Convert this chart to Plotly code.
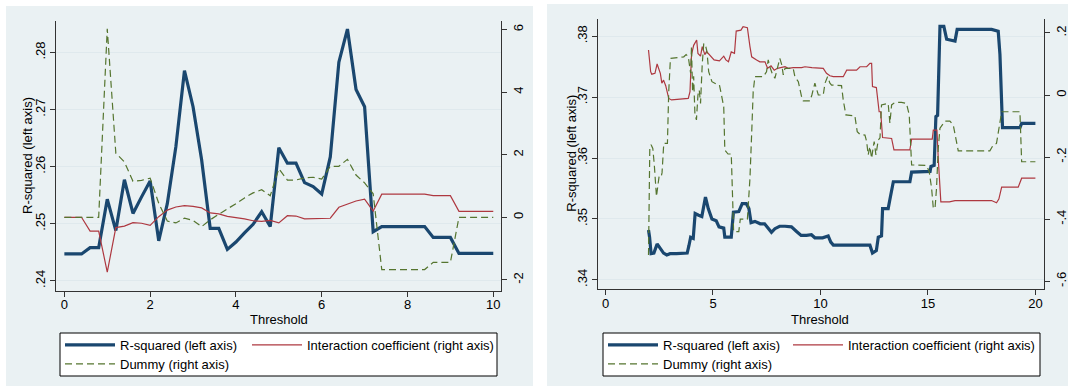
import plotly.graph_objects as go

W, H = 1071, 389

# ---------------- Left panel data (threshold 0..10) ----------------
thr_a = [0.0, 0.2, 0.4, 0.6, 0.8, 1.0, 1.2, 1.4, 1.6, 1.8, 2.0, 2.2, 2.4, 2.6, 2.8, 3.0,
         3.2, 3.4, 3.6, 3.8, 4.0, 4.2, 4.4, 4.6, 4.8, 5.0, 5.2, 5.4, 5.6, 5.8, 6.0, 6.2,
         6.4, 6.6, 6.8, 7.0, 7.2, 7.4, 7.6, 7.8, 8.0, 8.2, 8.4, 8.6, 8.8, 9.0, 9.2, 9.4,
         9.6, 9.8, 10.0]
rsq_a = [0.2447, 0.2447, 0.2447, 0.2458, 0.2458, 0.2543, 0.2488, 0.2577, 0.2518, 0.2547,
         0.2575, 0.2470, 0.2535, 0.2635, 0.2768, 0.2705, 0.2612, 0.2492, 0.2492, 0.2455,
         0.2468, 0.2484, 0.2499, 0.2521, 0.2495, 0.2633, 0.2606, 0.2606, 0.2572, 0.2565,
         0.2552, 0.2617, 0.2783, 0.2841, 0.2735, 0.2705, 0.2486, 0.2495, 0.2495, 0.2495,
         0.2495, 0.2495, 0.2495, 0.2476, 0.2476, 0.2476, 0.2448, 0.2448, 0.2448, 0.2448,
         0.2448]
inter_a = [0.0, 0.0, 0.0, -0.44, -0.44, -1.75, -0.33, -0.28, -0.17, -0.19, -0.26, 0.02,
           0.23, 0.33, 0.37, 0.35, 0.30, 0.14, 0.11, 0.03, 0.0, -0.05, -0.11, -0.13, -0.10,
           -0.18, 0.05, 0.04, -0.05, -0.04, -0.02, -0.03, 0.32, 0.42, 0.52, 0.58, 0.20,
           0.74, 0.74, 0.74, 0.74, 0.74, 0.74, 0.69, 0.69, 0.69, 0.19, 0.19, 0.19, 0.19, 0.19]
dummy_a = [0.0, 0.0, 0.0, 0.0, 0.0, 6.02, 2.05, 1.77, 1.15, 1.18, 1.25, 0.45, -0.12, -0.18,
           -0.03, -0.10, -0.30, -0.08, 0.10, 0.27, 0.43, 0.62, 0.78, 0.88, 0.69, 1.55, 1.19,
           1.19, 1.26, 1.28, 1.22, 1.63, 1.63, 1.85, 1.35, 1.10, 0.75, -1.67, -1.67, -1.67,
           -1.67, -1.67, -1.67, -1.44, -1.44, -1.44, 0.0, 0.0, 0.0, 0.0, 0.0]

# ---------------- Right panel data (threshold 2..20) ----------------
thr_b_rsq = [2.0, 2.05, 2.12, 2.25, 2.4, 2.55, 2.7, 2.85, 3.0, 3.3, 3.8, 3.88, 3.96, 4.08, 4.17,
             4.33, 4.48, 4.65, 4.78, 4.95, 5.15, 5.28, 5.5, 5.55, 5.85, 5.95, 6.2, 6.36, 6.55,
             6.67, 6.77, 6.95, 7.2, 7.4, 7.6, 7.72, 7.88, 8.1, 8.35, 8.65, 8.9, 9.1, 9.35, 9.58,
             9.74, 10.1, 10.36, 10.48, 10.6, 12.3, 12.42, 12.6, 12.69, 12.84, 12.89, 13.15,
             13.23, 13.39, 14.16, 14.24, 15.1, 15.14, 15.29, 15.37, 15.45, 15.56, 15.74, 15.87,
             16.26, 16.36, 17.96, 18.27, 18.35, 18.47, 19.28, 19.36, 20.0]
rsq_b = [0.3482, 0.3470, 0.3443, 0.3444, 0.3459, 0.3451, 0.3444, 0.3441, 0.3443, 0.3443,
         0.3444, 0.3456, 0.3470, 0.3468, 0.3509, 0.3506, 0.3504, 0.3536, 0.3517, 0.3500,
         0.3497, 0.3487, 0.3485, 0.3470, 0.3470, 0.3511, 0.3512, 0.3525, 0.3525, 0.3517,
         0.3494, 0.3496, 0.3492, 0.3492, 0.3484, 0.3478, 0.3484, 0.3488, 0.3488, 0.3487,
         0.3479, 0.3473, 0.3473, 0.3474, 0.3469, 0.3469, 0.3472, 0.3462, 0.3457, 0.3457,
         0.3444, 0.3448, 0.3470, 0.3472, 0.3517, 0.3517, 0.3532, 0.3561, 0.3561, 0.3577,
         0.3578, 0.3586, 0.3588, 0.3668, 0.3670, 0.3816, 0.3816, 0.3795, 0.3792, 0.3811,
         0.3811, 0.3808, 0.3770, 0.3650, 0.3650, 0.3657, 0.3657]

thr_b_int = [2.0, 2.1, 2.15, 2.3, 2.4, 2.5, 2.55, 2.62, 2.7, 2.8, 2.94, 3.07, 3.6, 3.85, 3.93,
             4.0, 4.1, 4.16, 4.24, 4.3, 4.42, 4.5, 4.62, 4.7, 4.9, 5.05, 5.3, 5.5, 5.6, 5.72,
             5.85, 6.0, 6.08, 6.3, 6.4, 6.6, 6.72, 6.8, 7.03, 7.18, 7.42, 7.54, 7.7, 7.85, 8.0,
             8.19, 8.35, 8.5, 8.73, 9.12, 9.28, 9.6, 10.13, 10.28, 10.44, 10.6, 11.06, 11.22,
             11.68, 11.84, 12.15, 12.3, 12.38, 12.42, 12.6, 12.73, 12.8, 12.89, 13.31, 13.42,
             14.16, 14.24, 15.2, 15.25, 15.42, 15.48, 15.6, 16.0, 16.26, 17.96, 18.19, 18.3,
             18.43, 19.2, 19.36, 20.0]
inter_b = [0.145, 0.075, 0.067, 0.07, 0.10, 0.08, 0.07, 0.038, 0.048, 0.03, -0.011, -0.016,
           -0.014, -0.011, 0.011, 0.129, 0.16, 0.166, 0.177, 0.134, 0.125, 0.156, 0.13, 0.14,
           0.125, 0.113, 0.11, 0.125, 0.113, 0.107, 0.139, 0.134, 0.206, 0.209, 0.22, 0.217,
           0.156, 0.123, 0.113, 0.107, 0.107, 0.086, 0.094, 0.08, 0.086, 0.088, 0.091, 0.086,
           0.088, 0.088, 0.091, 0.088, 0.086, 0.07, 0.062, 0.059, 0.059, 0.08, 0.08, 0.091,
           0.091, 0.102, 0.102, 0.027, 0.024, -0.054, -0.054, -0.137, -0.14, -0.177, -0.177,
           -0.142, -0.142, -0.113, -0.113, -0.204, -0.344, -0.344, -0.34, -0.34, -0.347,
           -0.335, -0.297, -0.297, -0.268, -0.268]

thr_b_dum = [2.0, 2.06, 2.12, 2.2, 2.27, 2.37, 2.42, 2.5, 2.6, 2.63, 2.71, 2.88, 2.94, 3.02,
             3.64, 3.75, 3.85, 3.96, 4.0, 4.05, 4.1, 4.16, 4.23, 4.3, 4.36, 4.42, 4.5, 4.57,
             4.65, 4.72, 4.8, 4.95, 5.18, 5.3, 5.38, 5.5, 5.55, 5.7, 5.85, 5.96, 6.2, 6.27, 6.6,
             6.72, 6.8, 6.87, 6.95, 7.34, 7.49, 7.57, 7.65, 7.75, 7.88, 7.95, 8.04, 8.11, 8.2,
             8.27, 8.35, 8.73, 8.81, 8.97, 9.12, 9.2, 9.51, 9.6, 9.74, 9.82, 9.9, 10.13, 10.21,
             10.33, 10.44, 10.52, 10.98, 11.06, 11.18, 11.6, 11.71, 11.84, 12.07, 12.15, 12.22,
             12.3, 12.38, 12.45, 12.5, 12.58, 12.69, 12.77, 12.84, 13.15, 13.23, 13.31, 13.46,
             13.77, 14.0, 14.13, 14.19, 14.24, 14.94, 15.06, 15.17, 15.25, 15.33, 15.4, 15.48,
             15.56, 15.79, 16.02, 16.18, 16.33, 16.41, 17.88, 18.04, 18.19, 18.3, 18.43, 19.28,
             19.36, 20.0]
dummy_b = [-0.515, -0.17, -0.16, -0.172, -0.225, -0.327, -0.30, -0.258, -0.26, -0.25, -0.156,
           -0.156, 0.011, 0.118, 0.123, 0.13, 0.123, 0.07, 0.156, 0.01, 0.06, -0.064, -0.08,
           0.0, 0.016, -0.027, 0.10, 0.166, 0.16, 0.14, 0.075, 0.043, 0.034, 0.032, 0.005,
           -0.038, -0.177, -0.19, -0.19, -0.44, -0.44, -0.40, -0.40, -0.268, -0.123, 0.011,
           0.059, 0.059, 0.075, 0.113, 0.09, 0.07, 0.054, 0.075, 0.102, 0.118, 0.097, 0.065,
           0.086, 0.086, 0.059, 0.043, -0.005, -0.019, -0.019, 0.0, 0.038, 0.016, 0.0, 0.0,
           0.038, 0.059, 0.038, 0.032, 0.03, -0.016, -0.064, -0.067, -0.118, -0.127, -0.129,
           -0.15, -0.193, -0.166, -0.204, -0.17, -0.15, -0.193, -0.145, -0.138, -0.032, -0.027,
           -0.091, -0.032, -0.024, -0.024, -0.027, -0.064, -0.161, -0.225, -0.227, -0.247,
           -0.30, -0.365, -0.365, -0.30, -0.172, -0.107, -0.084, -0.084, -0.097, -0.156, -0.18,
           -0.18, -0.161, -0.156, -0.107, -0.054, -0.054, -0.215, -0.215]

# tick labels
xt_a = [0, 2, 4, 6, 8, 10]
yl_a_vals = [0.24, 0.25, 0.26, 0.27, 0.28]
yl_a_text = [".24", ".25", ".26", ".27", ".28"]
yr_a_vals = [-2, 0, 2, 4, 6]
yr_a_text = ["-2", "0", "2", "4", "6"]
xt_b = [0, 5, 10, 15, 20]
yl_b_vals = [0.34, 0.35, 0.36, 0.37, 0.38]
yl_b_text = [".34", ".35", ".36", ".37", ".38"]
yr_b_vals = [-0.6, -0.4, -0.2, 0.0, 0.2]
yr_b_text = ["-.6", "-.4", "-.2", "0", ".2"]

names = ["R-squared (left axis)", "Interaction coefficient (right axis)", "Dummy (right axis)"]

# ---------------- styling ----------------
FONT = "Liberation Sans, Arial, sans-serif"
NAVY = "#1A476F"
RED = "#AE3840"
GREEN = "#55752F"
PANEL = "#EAF1F3"
GRID = "#DFE9ED"
AX = "#333333"
DASH = "7px,4px"


def px(x):
    return x / W


def py(y):
    return 1 - y / H


fig = go.Figure()

# left panel traces
fig.add_trace(go.Scatter(x=thr_a, y=rsq_a, mode="lines", name=names[0],
                         line=dict(color=NAVY, width=3.2), xaxis="x", yaxis="y", legend="legend"))
fig.add_trace(go.Scatter(x=thr_a, y=inter_a, mode="lines", name=names[1],
                         line=dict(color=RED, width=1.2), xaxis="x", yaxis="y2", legend="legend2"))
fig.add_trace(go.Scatter(x=thr_a, y=dummy_a, mode="lines", name=names[2],
                         line=dict(color=GREEN, width=1.2, dash=DASH), xaxis="x", yaxis="y2",
                         legend="legend3"))
# right panel traces
fig.add_trace(go.Scatter(x=thr_b_rsq, y=rsq_b, mode="lines", name=names[0],
                         line=dict(color=NAVY, width=3.2), xaxis="x2", yaxis="y3", legend="legend4"))
fig.add_trace(go.Scatter(x=thr_b_int, y=inter_b, mode="lines", name=names[1],
                         line=dict(color=RED, width=1.2), xaxis="x2", yaxis="y4", legend="legend5"))
fig.add_trace(go.Scatter(x=thr_b_dum, y=dummy_b, mode="lines", name=names[2],
                         line=dict(color=GREEN, width=1.2, dash=DASH), xaxis="x2", yaxis="y4",
                         legend="legend6"))

tickfont = dict(family=FONT, size=13, color="#000000")
axcommon = dict(showline=True, linecolor=AX, linewidth=1, ticks="outside", ticklen=5,
                tickwidth=1, tickcolor=AX, zeroline=False, tickfont=tickfont, fixedrange=True)

# plot area geometry (pixels)
L_x0, L_x1, L_y0, L_y1 = 56, 501, 20.5, 290.5
R_x0, R_x1, R_y0, R_y1 = 598, 1044, 18.5, 289

fig.update_layout(
    xaxis=dict(domain=[px(L_x0), px(L_x1)], range=[-0.195, 10.18], anchor="y",
               tickvals=xt_a, showgrid=False, ticklabelstandoff=-3, **axcommon),
    yaxis=dict(domain=[py(L_y1), py(L_y0)], range=[0.2383, 0.2856], anchor="x",
               tickvals=yl_a_vals, ticktext=yl_a_text, tickangle=-90, showgrid=True,
               gridcolor=GRID, gridwidth=1, **axcommon),
    yaxis2=dict(overlaying="y", side="right", anchor="x", range=[-2.339, 6.288],
                tickvals=yr_a_vals, ticktext=yr_a_text, tickangle=-90, showgrid=False, **axcommon),
    xaxis2=dict(domain=[px(R_x0), px(R_x1)], range=[-0.35, 20.4], anchor="y3",
                tickvals=xt_b, showgrid=False, ticklabelstandoff=-3, **axcommon),
    yaxis3=dict(domain=[py(R_y1), py(R_y0)], range=[0.3385, 0.3829], anchor="x2",
                tickvals=yl_b_vals, ticktext=yl_b_text, tickangle=-90, showgrid=True,
                gridcolor=GRID, gridwidth=1, **axcommon),
    yaxis4=dict(overlaying="y3", side="right", anchor="x2", range=[-0.6248, 0.2464],
                tickvals=yr_b_vals, ticktext=yr_b_text, tickangle=-90, showgrid=False, **axcommon),
)

# legends: one entry per legend for exact placement
row1, row2 = 345, 364
leg_pos = [
    ("legend", 60, row1), ("legend2", 247, row1), ("legend3", 60, row2),
    ("legend4", 603, row1), ("legend5", 788, row1), ("legend6", 603, row2),
]
for key, lx, ly in leg_pos:
    fig.update_layout({key: dict(x=px(lx), y=py(ly), xanchor="left", yanchor="middle",
                                 orientation="h", bgcolor="rgba(0,0,0,0)", borderwidth=0,
                                 itemwidth=50, font=dict(family=FONT, size=13, color="#000000"),
                                 itemclick=False, itemdoubleclick=False)})

shapes = [
    dict(type="rect", xref="paper", yref="paper", x0=px(6), x1=px(533), y0=py(386), y1=py(6),
         fillcolor=PANEL, line=dict(width=0), layer="below"),
    dict(type="rect", xref="paper", yref="paper", x0=px(547), x1=px(1068), y0=py(386), y1=py(4),
         fillcolor=PANEL, line=dict(width=0), layer="below"),
    dict(type="rect", xref="paper", yref="paper", x0=px(60), x1=px(497), y0=py(376), y1=py(333),
         fillcolor="white", line=dict(color="#000000", width=1), layer="below"),
    dict(type="rect", xref="paper", yref="paper", x0=px(603), x1=px(1040), y0=py(376), y1=py(333),
         fillcolor="white", line=dict(color="#000000", width=1), layer="below"),
]

annotations = [
    dict(text="R-squared (left axis)", xref="paper", yref="paper", x=px(27.5),
         y=py((L_y0 + L_y1) / 2), textangle=-90, showarrow=False, xanchor="center",
         yanchor="middle", font=dict(family=FONT, size=13, color="#000000")),
    dict(text="R-squared (left axis)", xref="paper", yref="paper", x=px(572),
         y=py((R_y0 + R_y1) / 2), textangle=-90, showarrow=False, xanchor="center",
         yanchor="middle", font=dict(family=FONT, size=13, color="#000000")),
    dict(text="Threshold", xref="paper", yref="paper", x=px(279), y=py(319), showarrow=False,
         xanchor="center", yanchor="middle", font=dict(family=FONT, size=13, color="#000000")),
    dict(text="Threshold", xref="paper", yref="paper", x=px(820), y=py(319), showarrow=False,
         xanchor="center", yanchor="middle", font=dict(family=FONT, size=13, color="#000000")),
]

fig.update_layout(width=W, height=H, autosize=False, margin=dict(l=0, r=0, t=0, b=0, pad=0),
                  paper_bgcolor="white", plot_bgcolor="white", showlegend=True,
                  font=dict(family=FONT, size=13, color="#000000"),
                  shapes=shapes, annotations=annotations, hovermode=False)

fig.write_html("out.html", config={"displayModeBar": False})
